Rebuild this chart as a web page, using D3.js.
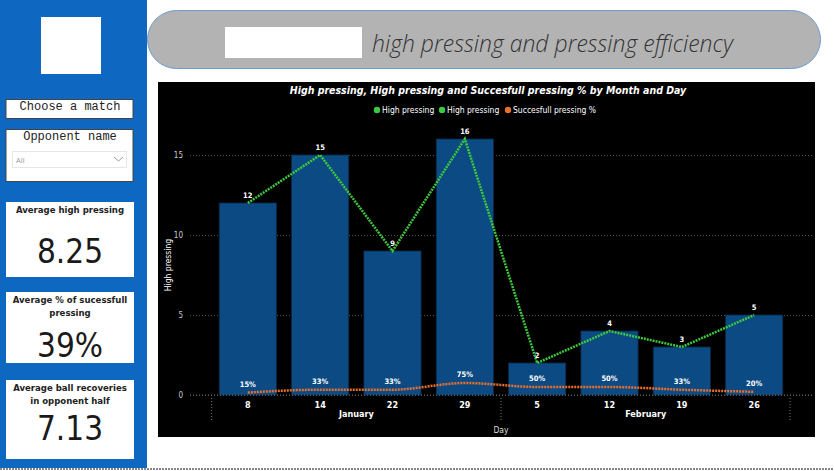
<!DOCTYPE html>
<html>
<head>
<meta charset="utf-8">
<script src="https://cdn.jsdelivr.net/npm/d3@7"></script>
<style>
  body { margin: 0; background: #fff; }
  svg { display: block; }
</style>
</head>
<body>
<div id="page"></div>
<script>
// data
var days = ["8", "14", "22", "29", "5", "12", "19", "26"];
var months = ["January", "January", "January", "January", "February", "February", "February", "February"];
var monthNames = ["January", "February"];
var highPressing = [12, 15, 9, 16, 2, 4, 3, 5];
var successPct = [0.15, 0.33, 0.33, 0.75, 0.50, 0.50, 0.33, 0.20];
var yTicks = [0, 5, 10, 15];
var legendItems = ["High pressing", "High pressing", "Succesfull pressing %"];
var cardTitles = [["Average high pressing"], ["Average % of sucessfull", "pressing"], ["Average ball recoveries", "in opponent half"]];
var cardValues = ["8.25", "39%", "7.13"];

var W = 834, H = 471;
var svg = d3.select("#page").append("svg").attr("width", W).attr("height", H);
var cond = "'DejaVu Sans Condensed', 'DejaVu Sans', sans-serif";

// ---- left panel
var side = svg.append("g").attr("class", "side");
side.append("rect").attr("x", 0).attr("y", 0).attr("width", 147).attr("height", 468).attr("fill", "#0e67c0");
side.append("rect").attr("x", 41).attr("y", 17).attr("width", 60).attr("height", 57).attr("fill", "#fff");

side.append("rect").attr("x", 6).attr("y", 99.5).attr("width", 127).attr("height", 19)
    .attr("fill", "#fff").attr("stroke", "#444");
side.append("text").attr("x", 70).attr("y", 110).attr("text-anchor", "middle")
    .attr("font-family", "'Liberation Mono', monospace").attr("font-size", 12).attr("fill", "#222")
    .text("Choose a match");

side.append("rect").attr("x", 6).attr("y", 129.5).attr("width", 127).attr("height", 52)
    .attr("fill", "#fff").attr("stroke", "#444");
side.append("text").attr("x", 70).attr("y", 140).attr("text-anchor", "middle")
    .attr("font-family", "'Liberation Mono', monospace").attr("font-size", 12).attr("fill", "#222")
    .text("Opponent name");
side.append("rect").attr("x", 12.5).attr("y", 151.5).attr("width", 114).attr("height", 16)
    .attr("fill", "#fff").attr("stroke", "#e6e6e6");
side.append("text").attr("x", 16).attr("y", 162.5)
    .attr("font-family", "'Segoe UI', 'Open Sans', sans-serif").attr("font-size", 7.5).attr("fill", "#999")
    .text("All");
side.append("path").attr("d", "M114,157 L118.5,161 L123,157").attr("fill", "none").attr("stroke", "#999");

var cardY = [202, 292, 380], cardH = [75, 71, 79];
var cards = side.selectAll("g.card").data(cardValues).enter().append("g").attr("class", "card")
    .attr("transform", function(d, i) { return "translate(6," + cardY[i] + ")"; });
cards.append("rect").attr("width", 128).attr("height", function(d, i) { return cardH[i]; }).attr("fill", "#fff");
cards.each(function(d, i) {
    var g = d3.select(this);
    cardTitles[i].forEach(function(line, j) {
        g.append("text").attr("x", 64).attr("y", 11 + j * 13).attr("text-anchor", "middle")
            .attr("font-family", cond).attr("font-weight", "bold").attr("font-size", 9.5).attr("fill", "#222")
            .text(line);
    });
});
var valueY = [61, 65, 60];
cards.append("text").attr("x", 64).attr("y", function(d, i) { return valueY[i]; }).attr("text-anchor", "middle")
    .attr("font-family", cond).attr("font-size", 33).attr("fill", "#1a1a1a")
    .text(function(d) { return d; });

// ---- header
svg.append("rect").attr("x", 147.5).attr("y", 10.5).attr("width", 673).attr("height", 58).attr("rx", 29)
    .attr("fill", "#b3b3b3").attr("stroke", "#6a9ed0");
svg.append("rect").attr("x", 225).attr("y", 27).attr("width", 137).attr("height", 31).attr("fill", "#fff");
svg.append("text").attr("x", 372).attr("y", 52)
    .attr("font-family", "'Open Sans', sans-serif").attr("font-style", "italic").attr("font-weight", 300)
    .attr("font-size", 23).attr("fill", "#333")
    .text("high pressing and pressing efficiency");

// bottom dotted border
svg.append("line").attr("x1", 0).attr("x2", W).attr("y1", 469).attr("y2", 469)
    .attr("stroke", "#888").attr("stroke-width", 2).attr("stroke-dasharray", "2,1");

// ---- chart
svg.append("rect").attr("x", 158).attr("y", 82).attr("width", 657).attr("height", 355).attr("fill", "#000");

svg.append("text").attr("x", 488).attr("y", 94).attr("text-anchor", "middle")
    .attr("font-family", cond).attr("font-weight", "bold").attr("font-style", "italic")
    .attr("font-size", 10.5).attr("fill", "#fff")
    .text("High pressing, High pressing and Succesfull pressing % by Month and Day");

var legendColors = ["#3ec83e", "#3ec83e", "#e8702f"];
var legendX = [377, 442, 508];
var lg = svg.selectAll("g.legend").data(legendItems).enter().append("g").attr("class", "legend")
    .attr("transform", function(d, i) { return "translate(" + legendX[i] + ",110)"; });
lg.append("circle").attr("r", 3.2).attr("fill", function(d, i) { return legendColors[i]; });
lg.append("text").attr("x", 5).attr("y", 3).attr("font-family", cond).attr("font-size", 8.5)
    .attr("fill", "#fff").text(function(d) { return d; });

var x = d3.scaleBand().domain(d3.range(days.length)).range([212, 790]).paddingInner(0.21).paddingOuter(0.1);
var y = d3.scaleLinear().domain([0, 15]).range([395, 155]);

// gridlines
var yAxis = d3.axisLeft(y).tickValues(yTicks).tickSize(-(812 - 190)).tickPadding(7);
var ga = svg.append("g").attr("transform", "translate(190,0)").call(yAxis);
ga.select(".domain").remove();
ga.selectAll(".tick line").attr("stroke", "#555").attr("stroke-dasharray", "1,2");
ga.selectAll(".tick text").attr("fill", "#ccc").attr("font-family", cond).attr("font-size", 8);

svg.append("text").attr("transform", "translate(171,265) rotate(-90)").attr("text-anchor", "middle")
    .attr("font-family", cond).attr("font-size", 8.5).attr("fill", "#fff").text("High pressing");

// bars
svg.selectAll("rect.bar").data(highPressing).enter().append("rect").attr("class", "bar")
    .attr("x", function(d, i) { return x(i); })
    .attr("width", x.bandwidth())
    .attr("y", function(d) { return y(d); })
    .attr("height", function(d) { return y(0) - y(d); })
    .attr("fill", "#0b4a82").attr("stroke", "#0b2a48").attr("stroke-width", 0.8);

var cx = function(d, i) { return x(i) + x.bandwidth() / 2; };

// green line
var lineHP = d3.line().x(cx).y(function(d) { return y(d); });
svg.append("path").datum(highPressing).attr("d", lineHP).attr("fill", "none")
    .attr("stroke", "#3ec83e").attr("stroke-width", 2.5).attr("stroke-dasharray", "2,1");

// orange line
var linePct = d3.line().x(cx).y(function(d) { return y(d); }).curve(d3.curveMonotoneX);
svg.append("path").datum(successPct).attr("d", linePct).attr("fill", "none")
    .attr("stroke", "#e8702f").attr("stroke-width", 2.5).attr("stroke-dasharray", "2,1");

// data labels
svg.selectAll("text.vlab").data(highPressing).enter().append("text").attr("class", "vlab")
    .attr("x", cx).attr("y", function(d) { return y(d) - 5; }).attr("text-anchor", "middle")
    .attr("font-family", cond).attr("font-weight", "bold").attr("font-size", 7.5).attr("fill", "#fff")
    .text(function(d) { return d; });
svg.selectAll("text.plab").data(successPct).enter().append("text").attr("class", "plab")
    .attr("x", cx).attr("y", function(d) { return y(d) - 6; }).attr("text-anchor", "middle")
    .attr("font-family", cond).attr("font-weight", "bold").attr("font-size", 7.5).attr("fill", "#fff")
    .text(function(d) { return Math.round(d * 100) + "%"; });

// x axis
svg.append("line").attr("x1", 190).attr("x2", 812).attr("y1", y(0)).attr("y2", y(0))
    .attr("stroke", "#666").attr("stroke-dasharray", "1,2");
svg.selectAll("text.day").data(days).enter().append("text").attr("class", "day")
    .attr("x", cx).attr("y", 408).attr("text-anchor", "middle")
    .attr("font-family", cond).attr("font-weight", "bold").attr("font-size", 9).attr("fill", "#fff")
    .text(function(d) { return d; });

var sepIdx = [0, 4, 8];
svg.selectAll("line.sep").data(sepIdx).enter().append("line").attr("class", "sep")
    .attr("x1", function(d) { return d < days.length ? x(d) - x.step() * x.paddingInner() / 2 : 790; })
    .attr("x2", function(d) { return d < days.length ? x(d) - x.step() * x.paddingInner() / 2 : 790; })
    .attr("y1", 398).attr("y2", 422).attr("stroke", "#777").attr("stroke-dasharray", "1,2");

svg.selectAll("text.month").data(monthNames).enter().append("text").attr("class", "month")
    .attr("x", function(m) {
        var idx = d3.range(days.length).filter(function(i) { return months[i] === m; });
        return (x(idx[0]) + x(idx[idx.length - 1]) + x.bandwidth()) / 2;
    })
    .attr("y", 417).attr("text-anchor", "middle")
    .attr("font-family", cond).attr("font-weight", "bold").attr("font-size", 9).attr("fill", "#fff")
    .text(function(d) { return d; });

svg.append("text").attr("x", 501).attr("y", 433).attr("text-anchor", "middle")
    .attr("font-family", cond).attr("font-size", 8.5).attr("fill", "#ddd").text("Day");
</script>
</body>
</html>
